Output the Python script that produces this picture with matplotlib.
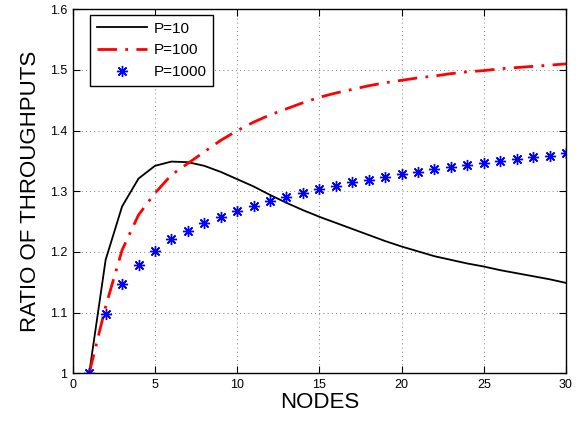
import matplotlib
matplotlib.use('Agg')
import matplotlib.pyplot as plt
import numpy as np

plt.rcParams['font.family'] = ['Liberation Sans', 'DejaVu Sans']

# data
nodes = np.arange(1, 31)
p10 = [1.000, 1.187, 1.275, 1.321, 1.342, 1.349, 1.348, 1.342, 1.332, 1.320,
       1.308, 1.294, 1.281, 1.269, 1.258, 1.248, 1.238, 1.228, 1.218, 1.209,
       1.201, 1.193, 1.187, 1.181, 1.176, 1.170, 1.165, 1.160, 1.155, 1.149]
p100 = [1.000, 1.110, 1.203, 1.261, 1.297, 1.327, 1.346, 1.365, 1.384, 1.400,
        1.414, 1.426, 1.436, 1.446, 1.455, 1.462, 1.468, 1.474, 1.479, 1.483,
        1.487, 1.490, 1.494, 1.497, 1.499, 1.502, 1.504, 1.506, 1.508, 1.510]
p1000 = [1.000, 1.097, 1.147, 1.178, 1.202, 1.221, 1.235, 1.248, 1.258, 1.268,
         1.276, 1.284, 1.291, 1.298, 1.303, 1.309, 1.315, 1.319, 1.324, 1.328,
         1.332, 1.336, 1.340, 1.343, 1.346, 1.350, 1.353, 1.357, 1.359, 1.363]
labels = ['P=10', 'P=100', 'P=1000']

fig = plt.figure(figsize=(5.82, 4.24), dpi=100)
ax = fig.add_axes([0.125, 0.1196, 0.8475, 0.8584])

ax.plot(nodes, p10, color='black', lw=1.3, label=labels[0])
ax.plot(nodes, p100, color='red', lw=2.0, linestyle=(0, (7, 3, 1, 3)), label=labels[1])
ax.plot(nodes, p1000, color='blue', lw=0, marker=(8, 2, 0), markersize=8,
        markeredgewidth=1.0, markeredgecolor='blue', label=labels[2])

ax.set_xlim(0, 30)
ax.set_ylim(1, 1.6)
ax.set_xticks([0, 5, 10, 15, 20, 25, 30])
ax.set_yticks([1, 1.1, 1.2, 1.3, 1.4, 1.5, 1.6])
ax.set_yticklabels(['1', '1.1', '1.2', '1.3', '1.4', '1.5', '1.6'])
ax.tick_params(direction='in', top=True, right=True, length=5, width=0.8,
               labelsize=9, pad=4)
ax.grid(True, color='#555555', linestyle=(0, (1, 4)), linewidth=0.6)
for s in ax.spines.values():
    s.set_linewidth(1.0)

ax.set_xlabel('NODES', fontsize=16, labelpad=1)
ax.set_ylabel('RATIO OF THROUGHPUTS', fontsize=16, labelpad=6)

leg = ax.legend(loc='upper left', bbox_to_anchor=(0.035, 0.985), fontsize=11,
                frameon=True, fancybox=False, edgecolor='black', framealpha=1,
                handlelength=3.3, borderpad=0.45, labelspacing=0.5,
                handletextpad=0.4, borderaxespad=0)
leg.get_frame().set_linewidth(1.0)

fig.savefig('out.png', dpi=100)
